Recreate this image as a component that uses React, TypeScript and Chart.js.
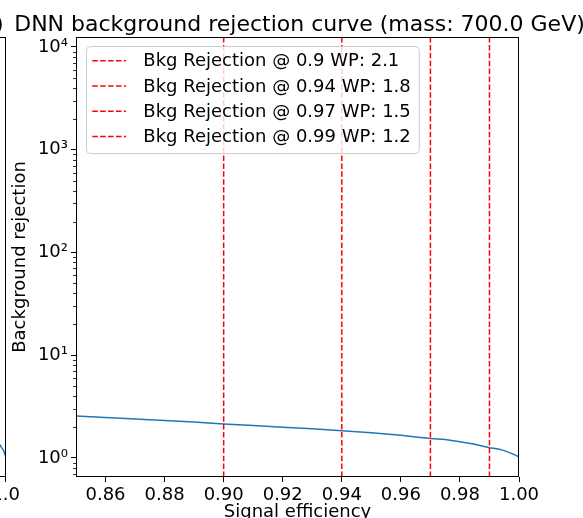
import React, { useEffect, useRef } from "react";
import { Chart, registerables } from "chart.js";

Chart.register(...registerables);

const FONT = '"DejaVu Sans", sans-serif';

// Signal efficiency (x) and background rejection (y)
const efficiency = [0.85, 0.86, 0.87, 0.88, 0.89, 0.9, 0.91, 0.92, 0.93, 0.94, 0.95, 0.96, 0.965, 0.97, 0.975, 0.98, 0.985, 0.99, 0.993, 0.995, 0.997, 0.999, 1.0];
const rejection = [2.56, 2.48, 2.4, 2.31, 2.24, 2.14, 2.07, 1.99, 1.92, 1.84, 1.76, 1.66, 1.6, 1.55, 1.51, 1.44, 1.36, 1.26, 1.22, 1.18, 1.12, 1.06, 1.02];

// Working points
const wpEfficiencies = [0.9, 0.94, 0.97, 0.99];
const wpRejections = [2.1, 1.8, 1.5, 1.2];

// Axis ticks
const xTickValues = [0.86, 0.88, 0.9, 0.92, 0.94, 0.96, 0.98, 1.0];
const yMajorTicks = [1, 10, 100, 1000, 10000];
const yTickLabels = ["10⁰", "10¹", "10²", "10³", "10⁴"];
const leftXTickValues = [0, 0.2, 0.4, 0.6, 0.8, 1.0];

const X_MIN = 0.85;
const X_MAX = 1.0;
const Y_MIN = 0.653;
const Y_MAX = 12500;

const TITLE = "DNN background rejection curve (mass: 700.0 GeV)";
const LEFT_TITLE = "DNN ROC curve (mass: 700.0 GeV)";
const X_LABEL = "Signal efficiency";
const Y_LABEL = "Background rejection";

const yMinorTicks: number[] = [];
for (let e = -1; e <= 4; e++) {
  for (let m = 2; m <= 9; m++) {
    const v = m * Math.pow(10, e);
    if (v > Y_MIN && v < Y_MAX) yMinorTicks.push(v);
  }
}

const CANVAS_H = 540;
const AREA_TOP = 37;
const AREA_BOTTOM = 477;

const framePlugin = {
  id: "frame",
  afterDatasetsDraw(chart: any) {
    const { ctx, chartArea: a } = chart;
    ctx.save();
    ctx.strokeStyle = "#000";
    ctx.lineWidth = 1;
    const l = Math.round(a.left) + 0.5;
    const r = Math.round(a.right) - 0.5;
    const t = Math.round(a.top) + 0.5;
    const b = Math.round(a.bottom) - 0.5;
    ctx.strokeRect(l, t, r - l, b - t);
    ctx.restore();
  },
};

const minorTickPlugin = {
  id: "minorTicks",
  afterDraw(chart: any) {
    const y = chart.scales.y;
    if (!y || !y.options.display) return;
    const { ctx, chartArea: a } = chart;
    ctx.save();
    ctx.strokeStyle = "#000";
    ctx.lineWidth = 0.8;
    ctx.beginPath();
    for (const v of yMinorTicks) {
      const py = Math.round(y.getPixelForValue(v)) + 0.5;
      ctx.moveTo(a.left - 3, py);
      ctx.lineTo(a.left, py);
    }
    ctx.stroke();
    ctx.restore();
  },
};

const titlePlugin = (text: string, align: "center" | "right") => ({
  id: "customTitle",
  afterDraw(chart: any) {
    const { ctx, chartArea: a } = chart;
    ctx.save();
    ctx.font = `22px ${FONT}`;
    ctx.fillStyle = "#000";
    ctx.textBaseline = "alphabetic";
    ctx.textAlign = align;
    const x = align === "center" ? (a.left + a.right) / 2 + 2 : a.right - 2;
    ctx.fillText(text, x, 31);
    ctx.restore();
  },
});

const legendPlugin = {
  id: "wpLegend",
  afterDraw(chart: any) {
    const { ctx, chartArea: a } = chart;
    const items = chart.data.datasets.filter((d: any) => d.inLegend);
    ctx.save();
    ctx.font = `18px ${FONT}`;
    let maxW = 0;
    for (const d of items) maxW = Math.max(maxW, ctx.measureText(d.label).width);
    const x0 = a.left + 10;
    const y0 = a.top + 9;
    const textOff = 57.3;
    const w = textOff + maxW + 8;
    const rowH = 25.3;
    const h = 14.7 + rowH * (items.length - 1) + 16.5;
    ctx.beginPath();
    ctx.roundRect(x0 + 0.5, y0 + 0.5, w, h, 4);
    ctx.fillStyle = "rgba(255,255,255,0.8)";
    ctx.fill();
    ctx.strokeStyle = "#cccccc";
    ctx.lineWidth = 1;
    ctx.stroke();
    items.forEach((d: any, i: number) => {
      const ry = y0 + 14.7 + i * rowH;
      ctx.beginPath();
      ctx.setLineDash(d.borderDash);
      ctx.strokeStyle = d.borderColor;
      ctx.lineWidth = d.borderWidth;
      ctx.moveTo(x0 + 6.3, ry);
      ctx.lineTo(x0 + 40, ry);
      ctx.stroke();
      ctx.setLineDash([]);
      ctx.fillStyle = "#000";
      ctx.textAlign = "left";
      ctx.textBaseline = "middle";
      ctx.fillText(d.label, x0 + textOff, ry + 1);
    });
    ctx.restore();
  },
};

function curvePoints() {
  return efficiency.map((x, i) => ({ x, y: rejection[i] }));
}

function MainChart() {
  const ref = useRef<HTMLCanvasElement>(null);
  useEffect(() => {
    const canvas = ref.current;
    if (!canvas) return;
    const datasets: any[] = [
      {
        label: "curve",
        data: curvePoints(),
        borderColor: "#1f77b4",
        borderWidth: 1.5,
        pointRadius: 0,
        order: 2,
        inLegend: false,
      },
      ...wpEfficiencies.map((wp, i) => ({
        label: `Bkg Rejection @ ${wp} WP: ${wpRejections[i].toFixed(1)}`,
        data: [
          { x: wp, y: Y_MIN },
          { x: wp, y: Y_MAX },
        ],
        borderColor: "#ff0000",
        borderWidth: 1.5,
        borderDash: [5.5, 2.4],
        pointRadius: 0,
        order: 1,
        inLegend: true,
      })),
    ];
    const chart = new Chart(canvas, {
      type: "line",
      data: { datasets },
      options: {
        animation: false,
        responsive: false,
        devicePixelRatio: 1,
        layout: { padding: { top: AREA_TOP, right: 64, left: 0, bottom: 0 }, autoPadding: false },
        plugins: { legend: { display: false }, tooltip: { enabled: false }, title: { display: false } },
        elements: { line: { tension: 0 } },
        scales: {
          x: {
            type: "linear",
            min: X_MIN,
            max: X_MAX,
            afterBuildTicks: (s: any) => {
              s.ticks = xTickValues.map((v) => ({ value: v }));
            },
            afterFit: (s: any) => {
              s.height = CANVAS_H - AREA_BOTTOM;
            },
            border: { display: false },
            grid: { drawOnChartArea: false, drawTicks: true, tickLength: 5, tickColor: "#000", tickWidth: 1 },
            ticks: {
              color: "#000",
              font: { family: FONT, size: 18 },
              padding: 3,
              maxRotation: 0,
              autoSkip: false,
              callback: (v: any) => Number(v).toFixed(2),
            },
            title: {
              display: true,
              text: X_LABEL,
              color: "#000",
              font: { family: FONT, size: 18 },
              padding: { top: 0, bottom: 16.5 },
            },
          },
          y: {
            type: "logarithmic",
            min: Y_MIN,
            max: Y_MAX,
            afterBuildTicks: (s: any) => {
              s.ticks = yMajorTicks.map((v) => ({ value: v }));
            },
            afterFit: (s: any) => {
              s.width = 76;
            },
            border: { display: false },
            grid: { drawOnChartArea: false, drawTicks: true, tickLength: 5, tickColor: "#000", tickWidth: 1 },
            ticks: {
              color: "#000",
              font: { family: FONT, size: 18 },
              padding: 3,
              autoSkip: false,
              callback: (v: any) => {
                const i = yMajorTicks.indexOf(Number(v));
                return i >= 0 ? yTickLabels[i] : "";
              },
            },
            title: {
              display: true,
              text: Y_LABEL,
              color: "#000",
              font: { family: FONT, size: 18 },
              padding: { top: 10, bottom: 0 },
            },
          },
        },
      } as any,
      plugins: [framePlugin, minorTickPlugin, legendPlugin, titlePlugin(TITLE, "center")],
    });
    return () => chart.destroy();
  }, []);
  return (
    <canvas
      ref={ref}
      width={583}
      height={CANVAS_H}
      style={{ position: "absolute", left: 0, top: 0, width: 583, height: CANVAS_H }}
    />
  );
}

const LEFT_W = 450;
const LEFT_RIGHT_PAD = 10;
const LEFT_EDGE = 6;

function LeftChart() {
  const ref = useRef<HTMLCanvasElement>(null);
  useEffect(() => {
    const canvas = ref.current;
    if (!canvas) return;
    const chart = new Chart(canvas, {
      type: "line",
      data: {
        datasets: [
          {
            label: "curve",
            data: curvePoints(),
            borderColor: "#1f77b4",
            borderWidth: 1.5,
            pointRadius: 0,
          },
        ],
      },
      options: {
        animation: false,
        responsive: false,
        devicePixelRatio: 1,
        layout: { padding: { top: AREA_TOP, right: LEFT_RIGHT_PAD, left: 0, bottom: 0 }, autoPadding: false },
        plugins: { legend: { display: false }, tooltip: { enabled: false }, title: { display: false } },
        scales: {
          x: {
            type: "linear",
            min: 0,
            max: 1,
            afterBuildTicks: (s: any) => {
              s.ticks = leftXTickValues.map((v) => ({ value: v }));
            },
            afterFit: (s: any) => {
              s.height = CANVAS_H - AREA_BOTTOM;
            },
            border: { display: false },
            grid: { drawOnChartArea: false, drawTicks: true, tickLength: 5, tickColor: "#000", tickWidth: 1 },
            ticks: {
              color: "#000",
              font: { family: FONT, size: 18 },
              padding: 3,
              maxRotation: 0,
              autoSkip: false,
              callback: (v: any) => Number(v).toFixed(1),
            },
          },
          y: { type: "logarithmic", min: Y_MIN, max: Y_MAX, display: false },
        },
      } as any,
      plugins: [framePlugin, titlePlugin(LEFT_TITLE, "right")],
    });
    const right = Math.round(chart.chartArea.right);
    canvas.style.left = `${LEFT_EDGE - right}px`;
    return () => chart.destroy();
  }, []);
  return (
    <canvas
      ref={ref}
      width={LEFT_W}
      height={CANVAS_H}
      style={{ position: "absolute", left: LEFT_EDGE - (LEFT_W - LEFT_RIGHT_PAD), top: 0, width: LEFT_W, height: CANVAS_H }}
    />
  );
}

export default function App() {
  return (
    <div
      style={{
        position: "fixed",
        left: 0,
        top: 0,
        width: 583,
        height: 518,
        overflow: "hidden",
        background: "#ffffff",
      }}
    >
      <LeftChart />
      <MainChart />
    </div>
  );
}
